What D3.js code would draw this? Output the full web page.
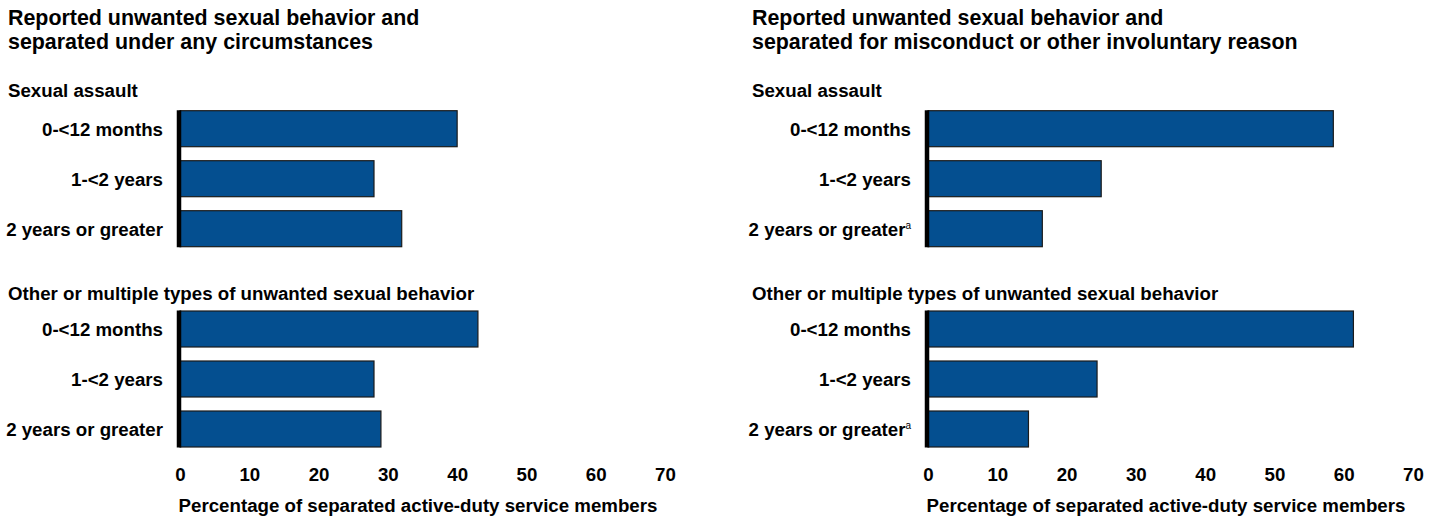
<!DOCTYPE html>
<html>
<head>
<meta charset="utf-8">
<script src="https://cdn.jsdelivr.net/npm/d3@7"></script>
<style>
  html, body { margin: 0; padding: 0; background: #fff; }
  svg text { font-family: "Liberation Sans", Arial, sans-serif; font-weight: bold; fill: #000; }
</style>
</head>
<body>
<svg id="chart" width="1440" height="518"></svg>
<script>
// ---- data ----
const panelTitles = [
  ["Reported unwanted sexual behavior and", "separated under any circumstances"],
  ["Reported unwanted sexual behavior and", "separated for misconduct or other involuntary reason"]
];
const groups = ["Sexual assault", "Other or multiple types of unwanted sexual behavior"];
const categories = ["0-<12 months", "1-<2 years", "2 years or greater"];
const anySexualAssault = [40, 28, 32];
const anyOther = [43, 28, 29];
const involSexualAssault = [58.5, 25, 16.5];
const involOther = [61.4, 24.4, 14.5];
const footnoteMarks = [["", "", ""], ["", "", "a"]];
const tickValues = [0, 10, 20, 30, 40, 50, 60, 70];
const axisTitle = "Percentage of separated active-duty service members";

const panelValues = [[anySexualAssault, anyOther], [involSexualAssault, involOther]];

// ---- layout ----
const svg = d3.select("#chart");
const panelLayout = [
  { textX: 8, x0: 180, x1: 665 },
  { textX: 752, x0: 928, x1: 1413 }
];
const groupTop = [103.7, 304];
const groupHeadY = [97, 300];
const fs = "18.7px";

panelLayout.forEach((pl, pi) => {
  const g = svg.append("g");
  const x = d3.scaleLinear().domain([0, 70]).range([pl.x0, pl.x1]);

  // title
  const t = g.append("text").attr("x", pl.textX).attr("y", 25).style("font-size", "21.4px");
  panelTitles[pi].forEach((line, li) => {
    t.append("tspan").attr("x", pl.textX).attr("dy", li === 0 ? 0 : 24).text(line);
  });

  groups.forEach((grp, gi) => {
    const y = d3.scaleBand().domain(categories)
      .range([groupTop[gi], groupTop[gi] + 150])
      .paddingInner(0.28).paddingOuter(0.14);

    g.append("text").attr("x", pl.textX).attr("y", groupHeadY[gi])
      .style("font-size", fs).text(grp);

    const vals = panelValues[pi][gi];
    g.selectAll(null).data(categories).join("rect")
      .attr("x", x(0))
      .attr("y", d => y(d))
      .attr("width", (d, i) => x(vals[i]) - x(0))
      .attr("height", y.bandwidth())
      .attr("fill", "#044f90")
      .attr("stroke", "#1b1b1b")
      .attr("stroke-width", 1.2);

    // category labels
    const labs = g.selectAll(null).data(categories).join("text")
      .attr("x", pl.x0 - 17)
      .attr("y", d => y(d) + y.bandwidth() / 2 + 6.8)
      .attr("text-anchor", "end")
      .style("font-size", fs);
    labs.each(function(d, i) {
      const el = d3.select(this);
      el.append("tspan").text(d);
      const m = footnoteMarks[pi][i];
      if (m) {
        el.append("tspan").attr("dy", -7).style("font-size", "10px")
          .style("font-weight", "normal").text(m);
      }
    });

    // vertical axis line
    const yTop = y(categories[0]);
    const yBot = y(categories[categories.length - 1]) + y.bandwidth();
    g.append("line")
      .attr("x1", x(0) - 1).attr("x2", x(0) - 1)
      .attr("y1", yTop - 0.5).attr("y2", yBot + 0.5)
      .attr("stroke", "#000").attr("stroke-width", 4.5);
  });

  // x axis tick labels (no axis line / tick marks)
  const axis = d3.axisBottom(x).tickValues(tickValues).tickSize(0).tickPadding(0);
  const ag = g.append("g").attr("transform", "translate(0,467.5)").call(axis);
  ag.select(".domain").remove();
  ag.selectAll("text")
    .style("font-size", fs)
    .style("font-family", "'Liberation Sans', Arial, sans-serif")
    .style("font-weight", "bold")
    .attr("fill", "#000")
    .attr("dy", "0.71em");

  g.append("text")
    .attr("x", (pl.x0 + pl.x1) / 2 - 4.5)
    .attr("y", 512)
    .attr("text-anchor", "middle")
    .style("font-size", fs)
    .text(axisTitle);
});
</script>
</body>
</html>
